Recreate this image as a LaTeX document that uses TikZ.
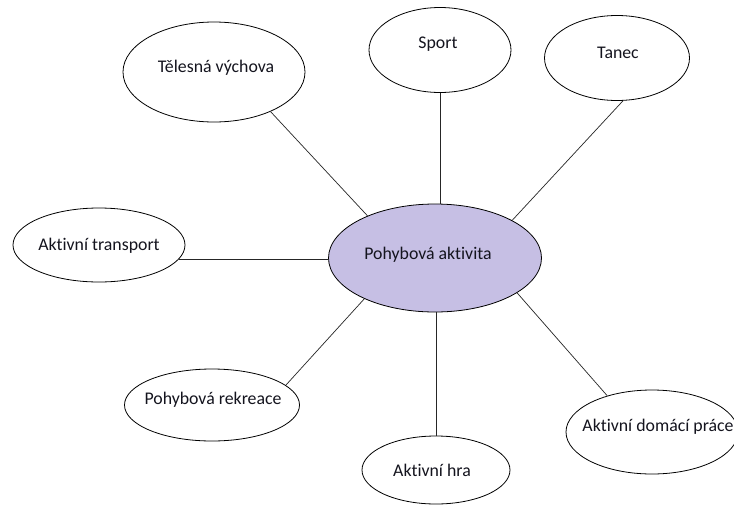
\documentclass[tikz,border=0pt]{standalone}
\usepackage{fontspec}
\setmainfont{Carlito}[Ligatures=NoCommon]
\usetikzlibrary{shapes.geometric}
\definecolor{lav}{RGB}{198,191,228}
\definecolor{ink}{RGB}{20,20,30}
\begin{document}
\begin{tikzpicture}[x=1pt,y=-1pt,
  bub/.style={ellipse,draw=black,line width=0.8pt,inner sep=0pt,fill=white},
  txt/.style={font=\fontsize{17.8}{21}\selectfont,text=ink,inner sep=0pt},
  link/.style={draw=black!85,line width=0.7pt}]
\useasboundingbox[fill=white] (0,0) rectangle (734,504);
\node[bub,fill=lav,minimum width=213pt,minimum height=108pt] (c) at (435,258) {};
\node[bub,minimum width=182pt,minimum height=100pt] (tv) at (214,72) {};
\node[bub,minimum width=142pt,minimum height=85pt] (sp) at (440,50) {};
\node[bub,minimum width=145pt,minimum height=85pt] (ta) at (617,58) {};
\node[bub,minimum width=172pt,minimum height=74pt] (tr) at (99,245) {};
\node[bub,minimum width=175pt,minimum height=72pt] (re) at (212,405) {};
\node[bub,minimum width=148pt,minimum height=68pt] (hra) at (436,470) {};
\node[bub,minimum width=172pt,minimum height=84pt] (dp) at (652,432) {};
\node[txt] (ct) at (428,255) {Pohybová aktivita};
\node[txt] (tvt) at (216,68) {Tělesná výchova};
\node[txt] (spt) at (438,44) {Sport};
\node[txt] (tat) at (618,53) {Tanec};
\node[txt] (trt) at (99,246) {Aktivní transport};
\node[txt] (ret) at (213,400) {Pohybová rekreace};
\node[txt] (hrat) at (432,470) {Aktivní hra};
\node[txt] (dpt) at (658,427) {Aktivní domácí práce};
\draw[link] (tv.-35) -- (c.148);
\draw[link] (sp.south) -- (sp.south |- c.north);
\draw[link] (ta.-82) -- (c.26);
\draw[link] (tr.-10) -- (tr.-10 -| c.west);
\draw[link] (re.15) -- (c.-150);
\draw[link] (hra.north) -- (hra.north |- c.south);
\draw[link] (dp.141) -- (c.-23);
\end{tikzpicture}
\end{document}
